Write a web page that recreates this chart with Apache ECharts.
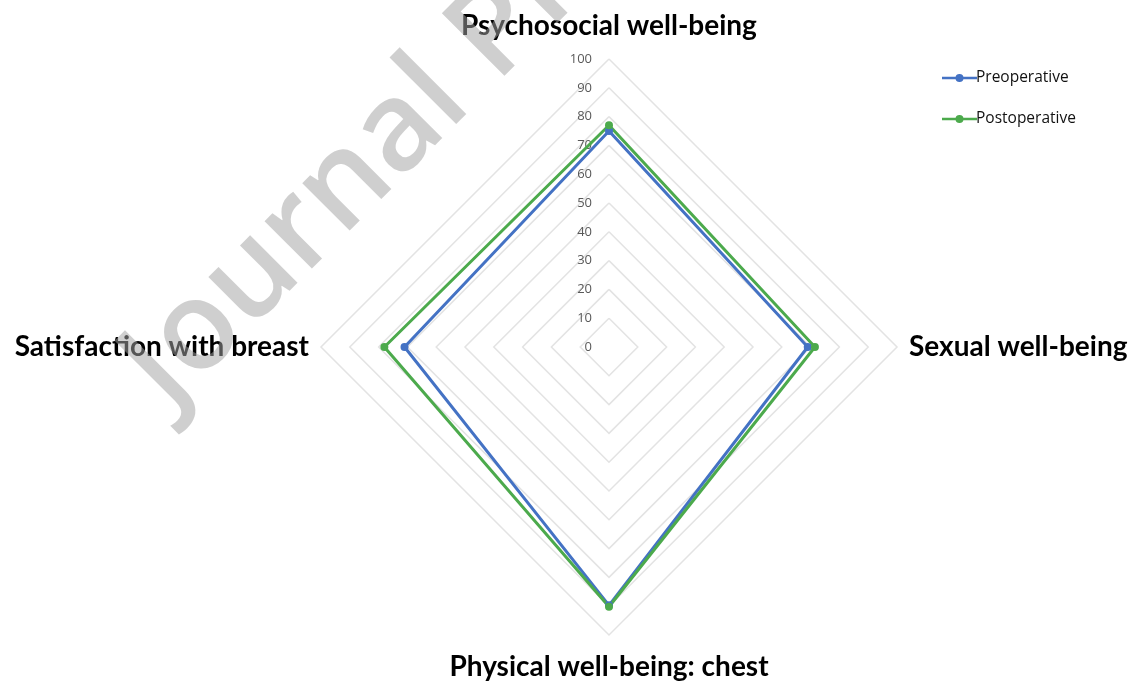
<!DOCTYPE html>
<html>
<head>
<meta charset="utf-8">
<script src="https://cdn.jsdelivr.net/npm/echarts@6/dist/echarts.min.js"></script>
<style>
html,body{margin:0;padding:0;background:#fff;}
#chart{width:1133px;height:682px;}
</style>
</head>
<body>
<div id="chart"></div>
<script>
// Indicators in Excel (clockwise) order: top, right, bottom, left
const categories = ['Psychosocial well-being', 'Sexual well-being', 'Physical well-being: chest', 'Satisfaction with breast'];
const preoperative = [75, 69, 89.7, 71];
const postoperative = [77, 71.5, 90.2, 78];
const seriesNames = ['Preoperative', 'Postoperative'];
const tickLabels = [0, 10, 20, 30, 40, 50, 60, 70, 80, 90, 100];
const watermarkText = 'Journal Pre-proof';

// ECharts places indicators counter-clockwise; reorder so the picture goes clockwise like Excel
const order = [0, 3, 2, 1];
const reorder = arr => order.map(i => arr[i]);

const legendIcon = 'path://M0,2.8 L35,2.8 L35,5.2 L0,5.2 Z M13.5,4 A4,4 0 1,1 21.5,4 A4,4 0 1,1 13.5,4 Z';

const chart = echarts.init(document.getElementById('chart'));
const option = {
  backgroundColor: '#fff',
  animation: false,
  legend: {
    orient: 'vertical',
    left: 937,
    top: 65,
    itemWidth: 35,
    itemHeight: 8,
    itemGap: 25,
    textStyle: { fontFamily: 'Open Sans', fontSize: 15.5, color: '#111', padding: [0, 0, 0, -6] },
    data: [
      { name: seriesNames[0], icon: legendIcon },
      { name: seriesNames[1], icon: legendIcon }
    ]
  },
  radar: {
    center: [609, 347],
    radius: 288,
    startAngle: 90,
    shape: 'polygon',
    splitNumber: 10,
    indicator: reorder(categories).map(n => ({ name: n, min: 0, max: 100 })),
    axisName: {
      color: '#000',
      fontFamily: 'Lato',
      fontWeight: 'bold',
      fontSize: 28,
      formatter: function (name) {
        if (name === categories[0]) return '{top|' + name + '}';
        if (name === categories[2]) return '{bot|' + name + '}';
        return name;
      },
      rich: {
        top: { fontFamily: 'Lato', fontWeight: 'bold', fontSize: 28, color: '#000', padding: [0, 0, 7, 0] },
        bot: { fontFamily: 'Lato', fontWeight: 'bold', fontSize: 28, color: '#000', padding: [6, 0, 0, 0] }
      }
    },
    nameGap: 12,
    axisLine: { show: false },
    axisTick: { show: false },
    axisLabel: { show: false },
    splitLine: { lineStyle: { color: '#e3e3e3', width: 1.5 } },
    splitArea: { show: false }
  },
  grid: { left: 600, top: 59, height: 288, width: 1, containLabel: false },
  xAxis: { type: 'value', show: false, min: 0, max: 1 },
  yAxis: {
    type: 'value',
    min: tickLabels[0],
    max: tickLabels[tickLabels.length - 1],
    interval: tickLabels[1] - tickLabels[0],
    axisLine: { show: false },
    axisTick: { show: false },
    splitLine: { show: false },
    axisLabel: { color: '#595959', fontFamily: 'Open Sans', fontSize: 13, margin: 8 }
  },
  series: [{
    type: 'radar',
    symbol: 'circle',
    symbolSize: 8,
    data: [
      { name: seriesNames[0], value: reorder(preoperative),
        lineStyle: { color: '#4472C4', width: 3 }, itemStyle: { color: '#4472C4' } },
      { name: seriesNames[1], value: reorder(postoperative),
        lineStyle: { color: '#4CAA4C', width: 3 }, itemStyle: { color: '#4CAA4C' } }
    ]
  }],
  color: ['#4472C4', '#4CAA4C'],
  graphic: [{
    type: 'text',
    x: 188,
    y: 430,
    rotation: Math.PI / 4,
    z: 100,
    silent: true,
    style: {
      text: watermarkText,
      font: '600 124px "Open Sans"',
      fill: 'rgba(163,163,163,0.52)',
      align: 'left',
      verticalAlign: 'bottom'
    }
  }]
};
chart.setOption(option);
</script>
</body>
</html>
